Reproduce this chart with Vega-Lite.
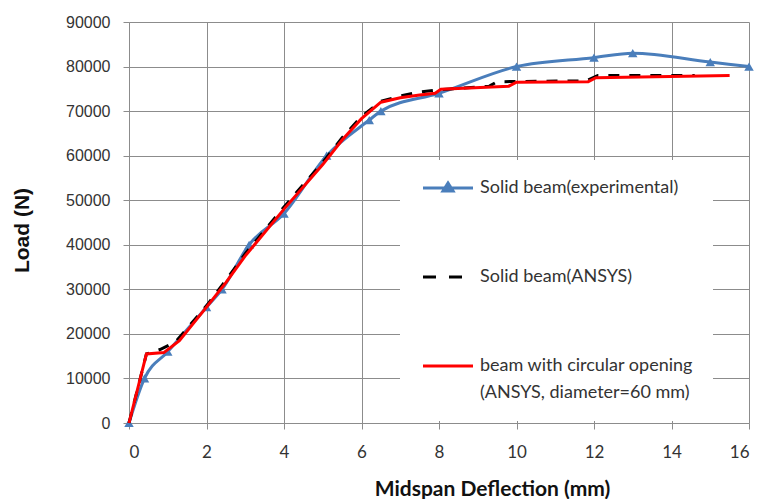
{
  "$schema": "https://vega.github.io/schema/vega-lite/v6.json",
  "width": 620,
  "height": 401,
  "autosize": {"type": "none"},
  "padding": {"left": 129, "top": 22, "right": 9, "bottom": 76},
  "background": "white",
  "config": {
    "view": {"stroke": null},
    "axis": {
      "gridColor": "#8c8c8c",
      "gridWidth": 1,
      "domainColor": "#8c8c8c",
      "domainWidth": 1,
      "tickColor": "#8c8c8c",
      "tickSize": 6,
      "labelColor": "#333333",
      "titleColor": "#111111"
    }
  },
  "data": {
    "values": [
      {"series": "Solid beam(experimental)", "x": 0, "y": 0},
      {"series": "Solid beam(experimental)", "x": 0.4, "y": 10000},
      {"series": "Solid beam(experimental)", "x": 1, "y": 16000},
      {"series": "Solid beam(experimental)", "x": 2, "y": 26000},
      {"series": "Solid beam(experimental)", "x": 2.4, "y": 30000},
      {"series": "Solid beam(experimental)", "x": 3.1, "y": 40000},
      {"series": "Solid beam(experimental)", "x": 4, "y": 47000},
      {"series": "Solid beam(experimental)", "x": 5.1, "y": 60000},
      {"series": "Solid beam(experimental)", "x": 6.2, "y": 68000},
      {"series": "Solid beam(experimental)", "x": 6.5, "y": 70000},
      {"series": "Solid beam(experimental)", "x": 8, "y": 74000},
      {"series": "Solid beam(experimental)", "x": 10, "y": 80000},
      {"series": "Solid beam(experimental)", "x": 12, "y": 82000},
      {"series": "Solid beam(experimental)", "x": 13, "y": 83000},
      {"series": "Solid beam(experimental)", "x": 15, "y": 81000},
      {"series": "Solid beam(experimental)", "x": 16, "y": 80000},

      {"series": "Solid beam(ANSYS)", "x": 0, "y": 0},
      {"series": "Solid beam(ANSYS)", "x": 0.45, "y": 15500},
      {"series": "Solid beam(ANSYS)", "x": 0.8, "y": 16500},
      {"series": "Solid beam(ANSYS)", "x": 1.2, "y": 18200},
      {"series": "Solid beam(ANSYS)", "x": 2, "y": 26300},
      {"series": "Solid beam(ANSYS)", "x": 2.5, "y": 32000},
      {"series": "Solid beam(ANSYS)", "x": 3, "y": 38000},
      {"series": "Solid beam(ANSYS)", "x": 4, "y": 48500},
      {"series": "Solid beam(ANSYS)", "x": 5, "y": 58500},
      {"series": "Solid beam(ANSYS)", "x": 5.5, "y": 64000},
      {"series": "Solid beam(ANSYS)", "x": 6, "y": 68800},
      {"series": "Solid beam(ANSYS)", "x": 6.5, "y": 72200},
      {"series": "Solid beam(ANSYS)", "x": 7, "y": 73400},
      {"series": "Solid beam(ANSYS)", "x": 7.5, "y": 74300},
      {"series": "Solid beam(ANSYS)", "x": 8, "y": 74800},
      {"series": "Solid beam(ANSYS)", "x": 9.3, "y": 75600},
      {"series": "Solid beam(ANSYS)", "x": 9.5, "y": 76600},
      {"series": "Solid beam(ANSYS)", "x": 11.8, "y": 76800},
      {"series": "Solid beam(ANSYS)", "x": 12.1, "y": 78000},
      {"series": "Solid beam(ANSYS)", "x": 14.6, "y": 78000},

      {"series": "beam with circular opening (ANSYS, diameter=60 mm)", "x": 0, "y": 0},
      {"series": "beam with circular opening (ANSYS, diameter=60 mm)", "x": 0.45, "y": 15500},
      {"series": "beam with circular opening (ANSYS, diameter=60 mm)", "x": 0.9, "y": 15800},
      {"series": "beam with circular opening (ANSYS, diameter=60 mm)", "x": 1.3, "y": 18500},
      {"series": "beam with circular opening (ANSYS, diameter=60 mm)", "x": 2, "y": 26000},
      {"series": "beam with circular opening (ANSYS, diameter=60 mm)", "x": 2.5, "y": 31500},
      {"series": "beam with circular opening (ANSYS, diameter=60 mm)", "x": 3, "y": 37500},
      {"series": "beam with circular opening (ANSYS, diameter=60 mm)", "x": 4, "y": 48000},
      {"series": "beam with circular opening (ANSYS, diameter=60 mm)", "x": 5, "y": 58000},
      {"series": "beam with circular opening (ANSYS, diameter=60 mm)", "x": 5.5, "y": 63500},
      {"series": "beam with circular opening (ANSYS, diameter=60 mm)", "x": 6, "y": 68300},
      {"series": "beam with circular opening (ANSYS, diameter=60 mm)", "x": 6.5, "y": 72000},
      {"series": "beam with circular opening (ANSYS, diameter=60 mm)", "x": 7, "y": 73000},
      {"series": "beam with circular opening (ANSYS, diameter=60 mm)", "x": 7.5, "y": 73600},
      {"series": "beam with circular opening (ANSYS, diameter=60 mm)", "x": 7.9, "y": 74000},
      {"series": "beam with circular opening (ANSYS, diameter=60 mm)", "x": 8.05, "y": 74900},
      {"series": "beam with circular opening (ANSYS, diameter=60 mm)", "x": 9.8, "y": 75600},
      {"series": "beam with circular opening (ANSYS, diameter=60 mm)", "x": 10, "y": 76500},
      {"series": "beam with circular opening (ANSYS, diameter=60 mm)", "x": 11.85, "y": 76600},
      {"series": "beam with circular opening (ANSYS, diameter=60 mm)", "x": 12.05, "y": 77500},
      {"series": "beam with circular opening (ANSYS, diameter=60 mm)", "x": 15.5, "y": 78000}
    ]
  },
  "encoding": {
    "x": {
      "field": "x",
      "type": "quantitative",
      "scale": {"domain": [0, 16], "nice": false, "zero": false},
      "axis": {
        "values": [0, 2, 4, 6, 8, 10, 12, 14, 16],
        "title": "Midspan  Deflection (mm)",
        "titleFont": "Lato",
        "titleFontSize": 21,
        "titleFontWeight": "bold",
        "titleX": 363,
        "titleBaseline": "alphabetic",
        "titleY": 72,
        "labelFont": "Lato",
        "labelFontSize": 17,
        "labelPadding": 15,
        "grid": true
      }
    },
    "y": {
      "field": "y",
      "type": "quantitative",
      "scale": {"domain": [0, 90000], "nice": false},
      "axis": {
        "values": [0, 10000, 20000, 30000, 40000, 50000, 60000, 70000, 80000, 90000],
        "format": "d",
        "title": "Load (N)",
        "titleFont": "Liberation Sans",
        "titleFontSize": 21,
        "titleFontWeight": "bold",
        "titlePadding": 33,
        "titleY": 208,
        "labelFont": "Liberation Sans",
        "labelFontSize": 16,
        "labelPadding": 13,
        "grid": true
      }
    }
  },
  "layer": [
    {
      "transform": [{"filter": "datum.series === 'Solid beam(experimental)'"}],
      "mark": {"type": "line", "strokeWidth": 3, "interpolate": "monotone"},
      "encoding": {
        "color": {
          "field": "series",
          "type": "nominal",
          "scale": {
            "domain": ["Solid beam(experimental)", "Solid beam(ANSYS)", "beam with circular opening (ANSYS, diameter=60 mm)"],
            "range": ["#4a7ebb", "#000000", "#ff0000"]
          },
          "legend": {
            "orient": "none",
            "legendX": 271,
            "legendY": 138,
            "title": null,
            "fillColor": "white",
            "padding": 19,
            "symbolType": "stroke",
            "symbolSize": 100,
            "symbolStrokeWidth": 3,
            "labelFont": "Lato",
            "labelFontSize": 18,
            "labelColor": "#333333",
            "labelLimit": 400,
            "labelOffset": 43,
            "rowPadding": 71,
            "labelExpr": "datum.label === 'beam with circular opening (ANSYS, diameter=60 mm)' ? ['beam with circular opening', '(ANSYS, diameter=60 mm)'] : datum.label",
            "encode": {
              "symbols": {
                "update": {
                  "shape": {"signal": "datum.value === 'Solid beam(experimental)' ? 'M-1,0H9M4,-1L5,0.6L3,0.6Z' : 'M-1,0H9'"},
                  "fill": {"signal": "datum.value === 'Solid beam(experimental)' ? '#4a7ebb' : 'transparent'"},
                  "strokeDash": {"signal": "datum.value === 'Solid beam(ANSYS)' ? [13, 13] : [1, 0]"}
                }
              },
              "labels": {
                "update": {
                  "lineHeight": {"value": 27}
                }
              }
            }
          }
        }
      }
    },
    {
      "transform": [{"filter": "datum.series === 'Solid beam(experimental)'"}],
      "mark": {"type": "point", "shape": "triangle-up", "filled": true, "size": 90, "color": "#4a7ebb", "opacity": 1}
    },
    {
      "transform": [{"filter": "datum.series === 'Solid beam(ANSYS)'"}],
      "mark": {"type": "line", "strokeWidth": 3, "strokeDash": [11, 10]},
      "encoding": {
        "color": {"field": "series", "type": "nominal"}
      }
    },
    {
      "transform": [{"filter": "datum.series === 'beam with circular opening (ANSYS, diameter=60 mm)'"}],
      "mark": {"type": "line", "strokeWidth": 3},
      "encoding": {
        "color": {"field": "series", "type": "nominal"}
      }
    }
  ]
}
